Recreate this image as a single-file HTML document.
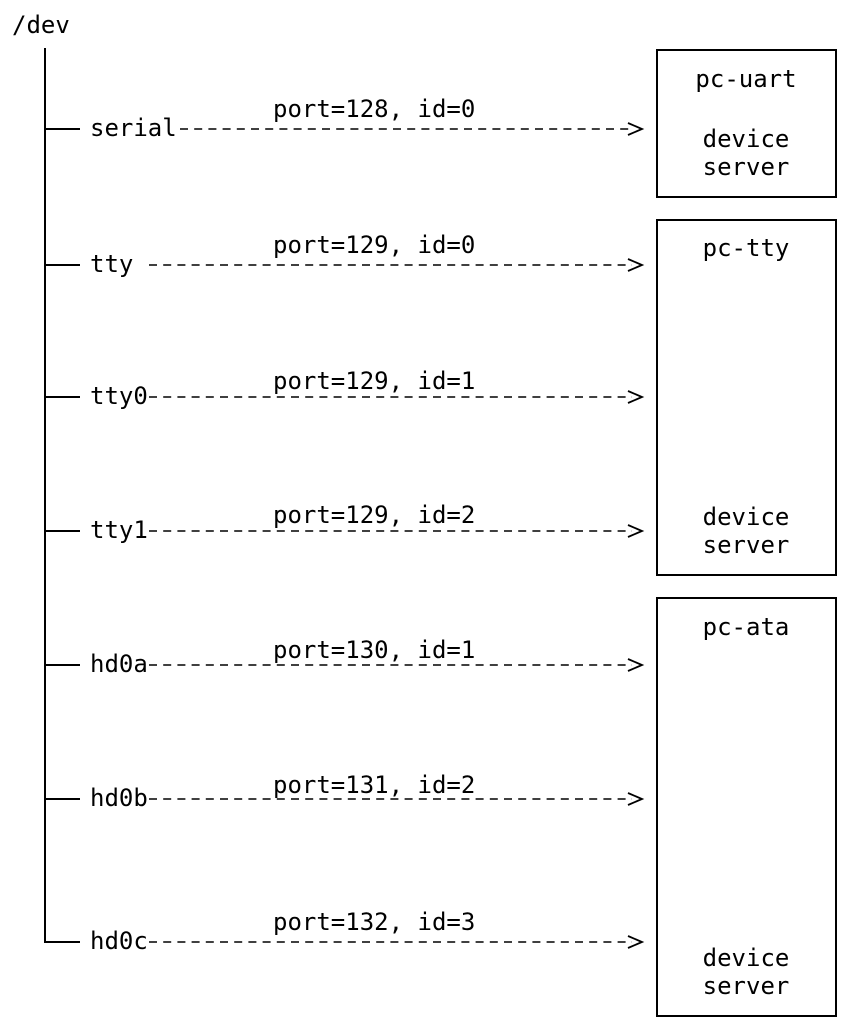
<!DOCTYPE html>
<html><head><meta charset="utf-8"><style>
html,body{margin:0;padding:0;background:#fff;}
svg text{font-family:"DejaVu Sans Mono","Liberation Mono",monospace;font-size:24px;fill:#000;}
</style></head><body>
<svg width="850" height="1030" xmlns="http://www.w3.org/2000/svg">
<text x="12" y="33">/dev</text>
<line x1="45" y1="48" x2="45" y2="943" stroke="#000" stroke-width="2"/>
<g stroke="#000" stroke-width="2">
<line x1="44" y1="129" x2="80" y2="129"/>
<line x1="44" y1="265" x2="80" y2="265"/>
<line x1="44" y1="397" x2="80" y2="397"/>
<line x1="44" y1="531" x2="80" y2="531"/>
<line x1="44" y1="665" x2="80" y2="665"/>
<line x1="44" y1="799" x2="80" y2="799"/>
<line x1="44" y1="942" x2="80" y2="942"/>
</g>
<g stroke="#000" stroke-width="1.6" stroke-dasharray="8,6.2" fill="none">
<line x1="180" y1="129" x2="632" y2="129"/>
<line x1="149" y1="265" x2="632" y2="265"/>
<line x1="149" y1="397" x2="632" y2="397"/>
<line x1="149" y1="531" x2="632" y2="531"/>
<line x1="149" y1="665" x2="632" y2="665"/>
<line x1="149" y1="799" x2="632" y2="799"/>
<line x1="149" y1="942" x2="632" y2="942"/>
</g>
<g stroke="#000" stroke-width="1.8" fill="none">
<polyline points="628,123 642,129 628,135"/>
<polyline points="628,259 642,265 628,271"/>
<polyline points="628,391 642,397 628,403"/>
<polyline points="628,525 642,531 628,537"/>
<polyline points="628,659 642,665 628,671"/>
<polyline points="628,793 642,799 628,805"/>
<polyline points="628,936 642,942 628,948"/>
</g>
<text x="90" y="136">serial</text>
<text x="90" y="272">tty</text>
<text x="90" y="404">tty0</text>
<text x="90" y="538">tty1</text>
<text x="90" y="672">hd0a</text>
<text x="90" y="806">hd0b</text>
<text x="90" y="949">hd0c</text>
<text x="273" y="117">port=128, id=0</text>
<text x="273" y="253">port=129, id=0</text>
<text x="273" y="389">port=129, id=1</text>
<text x="273" y="523">port=129, id=2</text>
<text x="273" y="658">port=130, id=1</text>
<text x="273" y="793">port=131, id=2</text>
<text x="273" y="930">port=132, id=3</text>
<g stroke="#000" stroke-width="2" fill="none">
<rect x="657" y="50" width="179" height="147"/>
<rect x="657" y="220" width="179" height="355"/>
<rect x="657" y="598" width="179" height="418"/>
</g>
<g text-anchor="middle">
<text x="746" y="87">pc-uart</text>
<text x="746" y="147">device</text>
<text x="746" y="175">server</text>
<text x="746" y="256">pc-tty</text>
<text x="746" y="525">device</text>
<text x="746" y="553">server</text>
<text x="746" y="635">pc-ata</text>
<text x="746" y="966">device</text>
<text x="746" y="994">server</text>
</g>
</svg>
</body></html>
